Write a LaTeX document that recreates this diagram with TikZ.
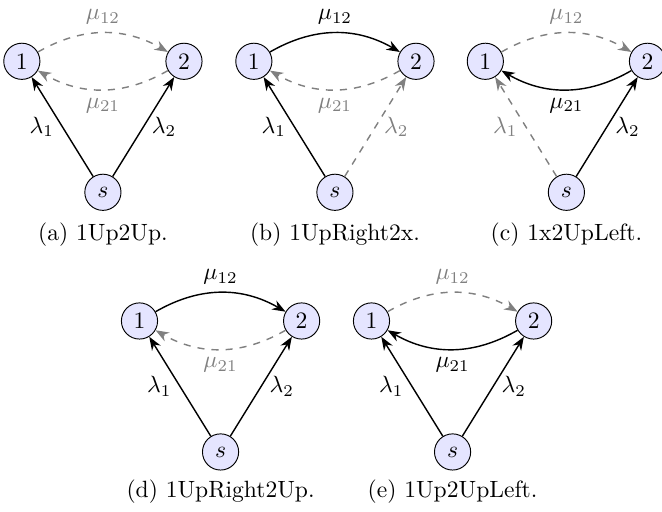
\documentclass[tikz,border=0pt]{standalone}
\usepackage{amsmath}
\usepackage{xcolor}
\usepackage{tikz}
\usetikzlibrary{arrows.meta, positioning}

\tikzset{
  state/.style={circle, draw, fill=blue!10, minimum size=0.54cm, inner sep=0pt},
  arcon/.style={semithick, -{Stealth}},
  arcoff/.style={semithick, gray, dashed, -{Stealth}},
  caption/.style={font=\normalsize}
}

\begin{document}
\begin{tikzpicture}
  \useasboundingbox (0,0) rectangle (9.881,-7.642);

  % --- (a) 1Up2Up ---
  \begin{scope}[shift={(0.326,-0.915)}]
    \node[state] (a1) at (0,0) {1};
    \node[state] (a2) at (2.42,0) {2};
    \node[state] (as) at (1.21,-1.955) {$s$};
    \draw[arcoff] (a1) to[bend left=30] node[above] {$\mu_{12}$} (a2);
    \draw[arcoff] (a2) to[bend left=30] node[below] {$\mu_{21}$} (a1);
    \draw[arcon] (as) -- node[left] {$\lambda_1$} (a1);
    \draw[arcon] (as) -- node[right] {$\lambda_2$} (a2);
    \node[caption] (capa) at (1.21,-2.59) {(a) 1Up2Up.};
  \end{scope}

  % --- (b) 1UpRight2x ---
  \begin{scope}[shift={(3.789,-0.915)}]
    \node[state] (b1) at (0,0) {1};
    \node[state] (b2) at (2.42,0) {2};
    \node[state] (bs) at (1.21,-1.955) {$s$};
    \draw[arcon] (b1) to[bend left=30] node[above] {$\mu_{12}$} (b2);
    \draw[arcoff] (b2) to[bend left=30] node[below] {$\mu_{21}$} (b1);
    \draw[arcon] (bs) -- node[left] {$\lambda_1$} (b1);
    \draw[arcoff] (bs) -- node[right] {$\lambda_2$} (b2);
    \node[caption] (capb) at (1.21,-2.59) {(b) 1UpRight2x.};
  \end{scope}

  % --- (c) 1x2UpLeft ---
  \begin{scope}[shift={(7.244,-0.915)}]
    \node[state] (c1) at (0,0) {1};
    \node[state] (c2) at (2.42,0) {2};
    \node[state] (cs) at (1.21,-1.955) {$s$};
    \draw[arcoff] (c1) to[bend left=30] node[above] {$\mu_{12}$} (c2);
    \draw[arcon] (c2) to[bend left=30] node[below] {$\mu_{21}$} (c1);
    \draw[arcoff] (cs) -- node[left] {$\lambda_1$} (c1);
    \draw[arcon] (cs) -- node[right] {$\lambda_2$} (c2);
    \node[caption] (capc) at (1.21,-2.59) {(c) 1x2UpLeft.};
  \end{scope}

  % --- (d) 1UpRight2Up ---
  \begin{scope}[shift={(2.082,-4.791)}]
    \node[state] (d1) at (0,0) {1};
    \node[state] (d2) at (2.42,0) {2};
    \node[state] (ds) at (1.21,-1.955) {$s$};
    \draw[arcon] (d1) to[bend left=30] node[above] {$\mu_{12}$} (d2);
    \draw[arcoff] (d2) to[bend left=30] node[below] {$\mu_{21}$} (d1);
    \draw[arcon] (ds) -- node[left] {$\lambda_1$} (d1);
    \draw[arcon] (ds) -- node[right] {$\lambda_2$} (d2);
    \node[caption] (capd) at (1.21,-2.55) {(d) 1UpRight2Up.};
  \end{scope}

  % --- (e) 1Up2UpLeft ---
  \begin{scope}[shift={(5.545,-4.791)}]
    \node[state] (e1) at (0,0) {1};
    \node[state] (e2) at (2.42,0) {2};
    \node[state] (es) at (1.21,-1.955) {$s$};
    \draw[arcoff] (e1) to[bend left=30] node[above] {$\mu_{12}$} (e2);
    \draw[arcon] (e2) to[bend left=30] node[below] {$\mu_{21}$} (e1);
    \draw[arcon] (es) -- node[left] {$\lambda_1$} (e1);
    \draw[arcon] (es) -- node[right] {$\lambda_2$} (e2);
    \node[caption] (cape) at (1.21,-2.55) {(e) 1Up2UpLeft.};
  \end{scope}
\end{tikzpicture}
\end{document}
